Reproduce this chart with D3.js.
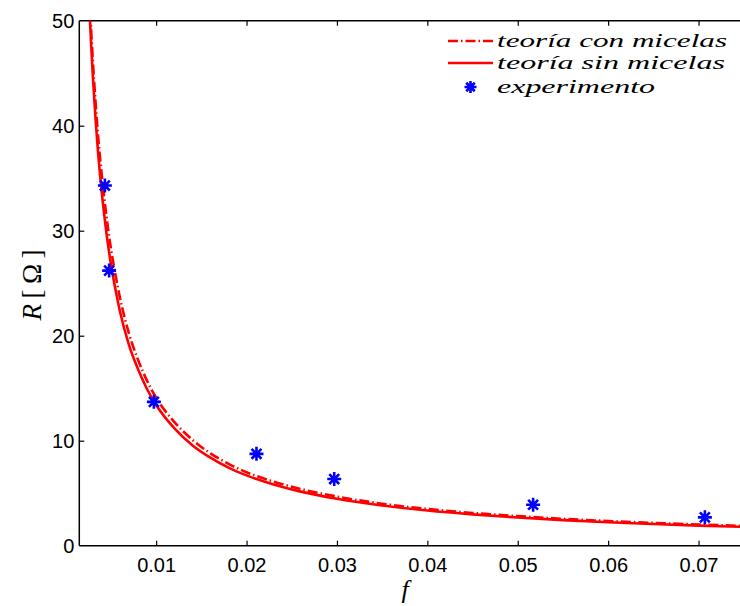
<!DOCTYPE html>
<html>
<head>
<meta charset="utf-8">
<script src="https://cdn.jsdelivr.net/npm/d3@7/dist/d3.min.js"></script>
<style>
  html, body { margin: 0; padding: 0; background: #fff; }
  svg { display: block; }
</style>
</head>
<body>
<svg id="chart" width="740" height="606"></svg>
<script>
// ---- data ----
const fTheory = [0.0026, 0.0028, 0.003, 0.0033, 0.0036, 0.004, 0.0045, 0.005, 0.0055, 0.006, 0.007, 0.008, 0.009, 0.010, 0.012, 0.014, 0.016, 0.018, 0.020, 0.023, 0.026, 0.030, 0.035, 0.040, 0.045, 0.050, 0.055, 0.060, 0.065, 0.070, 0.075, 0.080];
const rSinMicelas = [51.5, 47.9, 44.7, 40.6, 37.2, 33.5, 29.8, 26.8, 24.4, 22.3, 19.1, 16.8, 14.9, 13.4, 11.2, 9.57, 8.38, 7.44, 6.70, 5.83, 5.15, 4.47, 3.83, 3.35, 2.98, 2.68, 2.44, 2.23, 2.06, 1.91, 1.79, 1.68];
const rConMicelas = [52.5, 49.2, 46.2, 42.2, 38.8, 35.2, 31.4, 28.3, 25.8, 23.6, 20.2, 17.7, 15.7, 14.1, 11.8, 10.1, 8.8, 7.8, 7.0, 6.1, 5.4, 4.68, 4.0, 3.5, 3.12, 2.82, 2.56, 2.35, 2.17, 2.02, 1.88, 1.77];
const fExp = [0.00433, 0.0048, 0.00975, 0.0211, 0.0297, 0.0517, 0.0707];
const rExp = [34.3, 26.2, 13.7, 8.75, 6.35, 3.9, 2.7];
const xTicks = [0.01, 0.02, 0.03, 0.04, 0.05, 0.06, 0.07];
const yTicks = [0, 10, 20, 30, 40, 50];
const legendLabels = ["teoría con micelas", "teoría sin micelas", "experimento"];

(function () {
// ---- layout ----
const svg = d3.select("#chart");
const mLeft = 79.3, mTop = 20.7, mBottom = 545.7;
const W = 740;
const x = d3.scaleLinear().domain([0.0015, 0.08]).range([mLeft, mLeft + 0.0785 * 9040]);
const y = d3.scaleLinear().domain([0, 50]).range([mBottom, mTop]);
const tickFont = "'Liberation Sans', Arial, Helvetica, sans-serif";
const serif = "'Liberation Serif', 'DejaVu Serif', 'Times New Roman', serif";

svg.append("defs").append("clipPath").attr("id", "clip")
  .append("rect").attr("x", mLeft).attr("y", mTop).attr("width", W - mLeft).attr("height", mBottom - mTop);

// axes
const xAxis = svg.append("g").attr("transform", `translate(0,${mBottom})`)
  .call(d3.axisBottom(x).tickValues(xTicks).tickSize(-5).tickPadding(12).tickFormat(d3.format(".2f")));
const xAxisTop = svg.append("g").attr("transform", `translate(0,${mTop})`)
  .call(d3.axisTop(x).tickValues(xTicks).tickSize(-5).tickFormat(""));
const yAxis = svg.append("g").attr("transform", `translate(${mLeft},0)`)
  .call(d3.axisLeft(y).tickValues(yTicks).tickSize(-5).tickPadding(5).tickFormat(d3.format("d")));
[xAxis, xAxisTop, yAxis].forEach(g => {
  g.select(".domain").remove();
  g.selectAll(".tick line").attr("stroke", "#000").attr("stroke-width", 1.2);
  g.selectAll("text").attr("font-family", tickFont).attr("font-size", 20).attr("fill", "#000");
});
xAxis.selectAll("text").attr("dy", "0.71em");
yAxis.selectAll(".tick line").filter(d => d === 0 || d === 50).remove();

// spines
svg.append("line").attr("x1", mLeft).attr("x2", W).attr("y1", mBottom).attr("y2", mBottom).attr("stroke", "#000").attr("stroke-width", 1.5);
svg.append("line").attr("x1", mLeft).attr("x2", W).attr("y1", mTop).attr("y2", mTop).attr("stroke", "#000").attr("stroke-width", 1.5);
svg.append("line").attr("x1", mLeft).attr("x2", mLeft).attr("y1", mTop).attr("y2", mBottom).attr("stroke", "#000").attr("stroke-width", 1.5);

// curves
const plot = svg.append("g").attr("clip-path", "url(#clip)");
const line = d3.line().curve(d3.curveMonotoneX);
const conPts = fTheory.map((f, i) => [x(f), y(rConMicelas[i])]);
const sinPts = fTheory.map((f, i) => [x(f), y(rSinMicelas[i])]);
const dashPattern = "10,3,1.5,3";
plot.append("path").attr("d", line(sinPts)).attr("fill", "none").attr("stroke", "#ff0000").attr("stroke-width", 2.6);
plot.append("path").attr("d", line(conPts)).attr("fill", "none").attr("stroke", "#ff0000").attr("stroke-width", 2.6)
  .attr("stroke-dasharray", dashPattern);

// asterisk marker
function asterisk(g, cx, cy, r) {
  const d = [];
  for (let k = 0; k < 4; k++) {
    const a = k * Math.PI / 4;
    const dx = r * Math.cos(a), dy = r * Math.sin(a);
    d.push(`M${cx - dx},${cy - dy}L${cx + dx},${cy + dy}`);
  }
  g.append("path").attr("d", d.join("")).attr("stroke", "#0000ff").attr("stroke-width", 2.6).attr("fill", "none");
}
const expG = svg.append("g");
fExp.forEach((f, i) => asterisk(expG, x(f), y(rExp[i]), 7));

// legend
const lg = svg.append("g");
const lx1 = 448, lx2 = 493, tx = 497;
const rowsY = [41, 63, 87];
lg.append("line").attr("x1", lx1).attr("x2", lx2).attr("y1", rowsY[0]).attr("y2", rowsY[0])
  .attr("stroke", "#ff0000").attr("stroke-width", 2.6).attr("stroke-dasharray", dashPattern);
lg.append("line").attr("x1", lx1).attr("x2", lx2).attr("y1", rowsY[1]).attr("y2", rowsY[1])
  .attr("stroke", "#ff0000").attr("stroke-width", 2.6);
asterisk(lg, 470.5, rowsY[2], 6);
const textLens = [230, 228, 158];
legendLabels.forEach((t, i) => {
  lg.append("text").attr("x", tx).attr("y", rowsY[i] + 6).text(t)
    .attr("font-family", serif).attr("font-style", "italic").attr("font-size", 19)
    .attr("textLength", textLens[i]).attr("lengthAdjust", "spacingAndGlyphs").attr("fill", "#000");
});

// axis labels
svg.append("text").attr("x", 405).attr("y", 598).attr("text-anchor", "middle")
  .attr("font-family", serif).attr("font-style", "italic").attr("font-size", 26).text("f");
const yl = svg.append("text").attr("transform", "translate(41,285) rotate(-90)").attr("text-anchor", "middle")
  .attr("font-family", serif).attr("font-size", 28)
  .attr("textLength", 71).attr("lengthAdjust", "spacingAndGlyphs");
yl.append("tspan").attr("font-style", "italic").text("R");
yl.append("tspan").text("\u2009[\u2009Ω\u2009]");
})();
</script>
</body>
</html>
